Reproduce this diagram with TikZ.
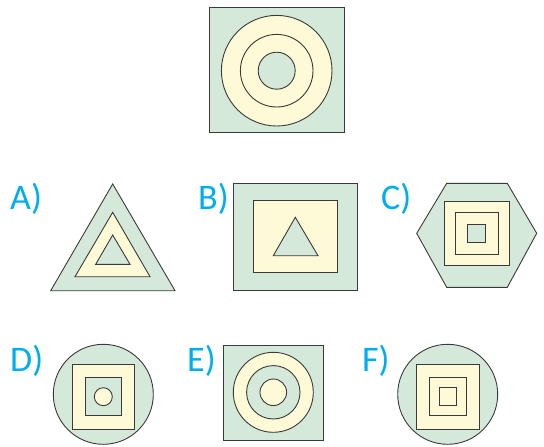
\documentclass[tikz,border=0pt]{standalone}
\usepackage{fontspec}
\newfontfamily\labelfont{Carlito}
\usepackage{tikz}
\usetikzlibrary{calc}
\definecolor{figgreen}{HTML}{D5E9DA}
\definecolor{figyellow}{HTML}{FEF9D7}
\definecolor{figline}{HTML}{3A3A3A}
\definecolor{labelcyan}{HTML}{00AEEF}

\begin{document}
\begin{tikzpicture}[x = 1pt, y = -1pt]
  \tikzset{
    green/.style = {fill = figgreen, draw = figline, line width = 0.9pt},
    yellow/.style = {fill = figyellow, draw = figline, line width = 0.9pt},
    optlabel/.style = {anchor = base west, inner sep = 0pt, text = labelcyan, font = \labelfont\fontsize{36}{36}\selectfont}
  }
  \useasboundingbox (0,0) rectangle (544,447);
  \clip (0,0) rectangle (544,447);

  % question
  \filldraw[green] (209,7) rectangle (344,132);
  \filldraw[yellow] (276.7,70.7) circle (55.3);
  \draw[figline, line width = 0.9pt] (276.7,70.7) circle (36.3);
  \filldraw[green] (276.7,70.7) circle (18.5);

  % A
  \node[optlabel] (labelA) at (10,209) {A)};
  \filldraw[green] (112.7,184) -- (50.7,290.7) -- (175,290.7) -- cycle;
  \filldraw[yellow] (112.7,212.3) -- (75,276.7) -- (150,276.7) -- cycle;
  \filldraw[green] (112.7,235) -- (95.7,264.3) -- (130,264.3) -- cycle;

  % B
  \node[optlabel] (labelB) at (198,209) {B)};
  \filldraw[green] (233.3,183.3) rectangle (357.3,290);
  \filldraw[yellow] (253.3,200.7) rectangle (337.7,272.7);
  \filldraw[green] (295.3,217.3) -- (273.3,255.7) -- (318,255.7) -- cycle;

  % C
  \node[optlabel] (labelC) at (381,209) {C)};
  \filldraw[green] (446.7,183.3) -- (507.3,183.3) -- (536.7,233.3) -- (507.3,287.3) -- (446.7,287.3) -- (416.7,233.3) -- cycle;
  \filldraw[yellow] (444,201) rectangle (509,265.7);
  \draw[figline, line width = 0.9pt] (455.3,212.3) rectangle (498,254.3);
  \filldraw[green] (467.7,224.3) rectangle (485.7,242.3);

  % D
  \node[optlabel] (labelD) at (10,371) {D)};
  \filldraw[green] (103.3,394.3) circle (50);
  \filldraw[yellow] (72.3,364.3) rectangle (134.3,429);
  \filldraw[green] (85.3,377.7) rectangle (121.3,415.7);
  \filldraw[yellow] (103.3,396.7) circle (9);

  % E
  \node[optlabel] (labelE) at (187,371) {E)};
  \filldraw[green] (223.3,345) rectangle (323.3,440);
  \filldraw[yellow] (273.3,392.3) circle (40);
  \filldraw[green] (273.3,392.3) circle (26.7);
  \filldraw[yellow] (273.3,392.3) circle (13.3);

  % F
  \node[optlabel] (labelF) at (362,371) {F)};
  \filldraw[green] (447.7,394.3) circle (50);
  \filldraw[yellow] (416.7,364.3) rectangle (479,429);
  \draw[figline, line width = 0.9pt] (429.3,377.7) rectangle (466,415.7);
  \draw[figline, line width = 0.9pt] (439.3,387.7) rectangle (456,405.3);
\end{tikzpicture}
\end{document}
